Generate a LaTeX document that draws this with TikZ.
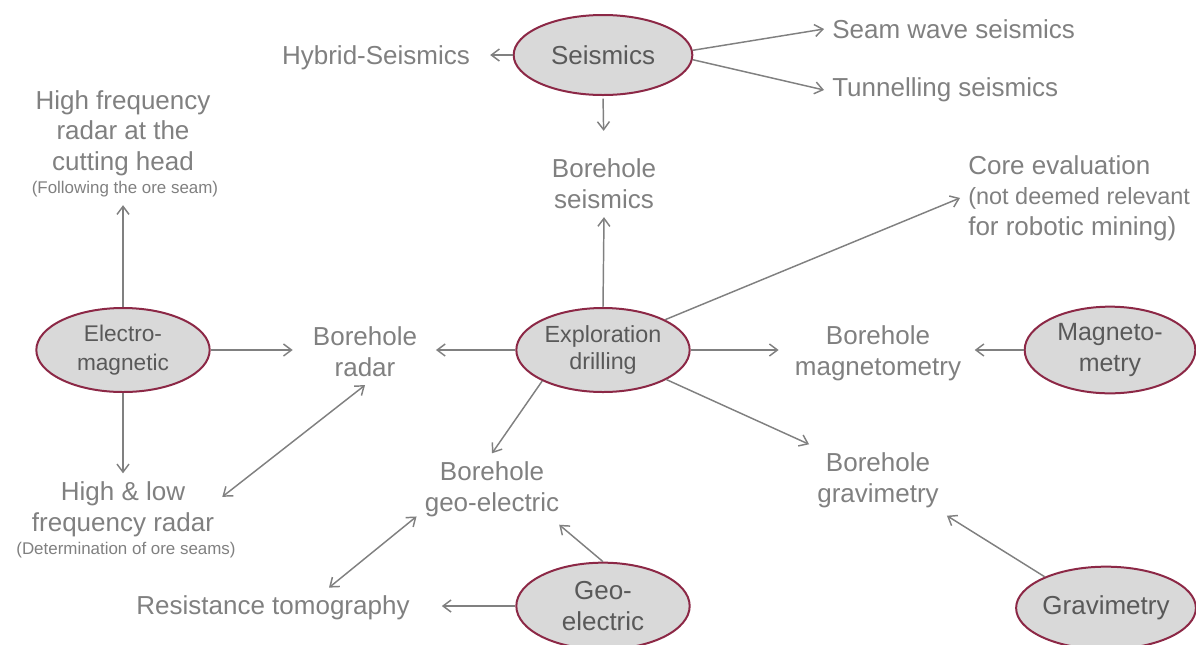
\documentclass[tikz,border=0pt]{standalone}
\usepackage{fontspec}
\setmainfont{Liberation Sans}
\usetikzlibrary{shapes.geometric}
\usetikzlibrary{arrows.meta}
\definecolor{rim}{HTML}{8C2846}
\definecolor{oval}{HTML}{D9D9D9}
\definecolor{ink}{HTML}{595959}
\definecolor{label}{HTML}{808080}
\tikzset{
  method/.style={
    % The shape:
    ellipse,inner sep=0pt,
    % The size:
    minimum width=130pt,minimum height=63pt,
    % The border:
    line width=1.5pt,draw=rim,
    % The filling and the text:
    fill=oval,text=ink,align=center,
    font=\fontsize{19.5}{23}\selectfont}}
\tikzset{
	topic/.style={
		% Plain grey text, no border
		rectangle,inner sep=6pt,align=center,
		text=label,font=\fontsize{19.5}{23}\selectfont}}
\tikzset{
	remark/.style={topic,inner sep=6pt,font=\fontsize{12.7}{15}\selectfont}}
\tikzset{
	link/.style={line width=1.1pt,draw=label,
		>={Straight Barb[length=6pt,width=9pt]},->},
	twoway/.style={link,<->}}

\begin{document}
\begin{tikzpicture}[x=0.75pt,y=-0.75pt]
	\useasboundingbox (0,0) rectangle (1196,644);
	% The methods
	\node[method,minimum width=134pt,minimum height=60pt] (seis) at (603,55) {Seismics};
	\node[method,font=\fontsize{17}{21.5}\selectfont] (em) at (123,350) {Electro-\\magnetic};
	\node[method,font=\fontsize{17.5}{20}\selectfont] (expl) at (603,350) {Exploration\\drilling};
	\node[method,font=\fontsize{18.7}{23}\selectfont,minimum width=128pt,minimum height=65pt] (mag) at (1110,350) {Magneto-\\metry};
	\node[method,minimum height=65pt] (geo) at (603,606) {Geo-\\electric};
	\node[method,minimum width=129pt,minimum height=62pt] (grav) at (1106,608) {Gravimetry};
	% The topics
	\node[topic] (hybrid) at (376,58) {Hybrid-Seismics};
	\node[topic,anchor=west] (seam) at (824,29) {Seam wave seismics};
	\node[topic,anchor=west] (tunnel) at (824,90) {Tunnelling seismics};
	\node[topic] (bseis) at (604,184) {Borehole\\seismics};
	\node[topic,align=left,anchor=west] (core) at (960,198)
		{Core evaluation\\\fontsize{17.6}{21.75}\selectfont(not deemed relevant\\for robotic mining)};
	\node[topic] (hf) at (123,133) {High frequency\\radar at the\\cutting head};
	\node[remark] (hfnote) at (125,189) {(Following the ore seam)};
	\node[topic] (radar) at (365,352) {Borehole\\radar};
	\node[topic] (bmag) at (878,353) {Borehole\\magnetometry};
	\node[topic] (hl) at (123,509) {High \& low\\frequency radar};
	\node[remark] (hlnote) at (126,550) {(Determination of ore seams)};
	\node[topic] (bgeo) at (492,489) {Borehole\\geo-electric};
	\node[topic] (bgrav) at (878,480) {Borehole\\gravimetry};
	\node[topic] (res) at (273,608) {Resistance tomography};
	% Lines out of seis
	\draw[link,shorten >=9pt] (seis.west) -- (seis.west -| hybrid.east);
	\draw[link] (seis.3) -- (seam.west);
	\draw[link] (seis.-3) -- (tunnel.west);
	\draw[link,shorten <=2pt,shorten >=15pt] (seis.south) -- (bseis.north);
	% Lines out of expl
	\draw[link] (expl.north) -- (bseis.south);
	\draw[link] (expl.26) -- (core.west);
	\draw[link,shorten >=8pt] (expl.west) -- (expl.west -| radar.east);
	\draw[link,shorten >=6pt] (expl.east) -- (expl.east -| bmag.west);
	\draw[link] (expl.207) -- (bgeo.north);
	\draw[link] (expl.-25) -- (bgrav.north west);
	% Lines out of em
	\draw[link] (em.north) -- (em.north |- hfnote.south);
	\draw[link] (em.south) -- (hl.north);
	\draw[link,shorten >=9pt] (em.east) -- (em.east -| radar.west);
	% Lines out of mag, geo and grav
	\draw[link,shorten >=4pt] (mag.west) -- (mag.west -| bmag.east);
	\draw[link] (geo.north) -- (bgeo.-28);
	\draw[link,shorten >=18pt] (geo.west) -- (geo.west -| res.east);
	\draw[link] (grav.153) -- (bgrav.south east);
	% Lines both ways
	\draw[twoway] (radar.south) -- (hl.7);
	\draw[twoway] (bgeo.200) -- (res.20);
\end{tikzpicture}
\end{document}
